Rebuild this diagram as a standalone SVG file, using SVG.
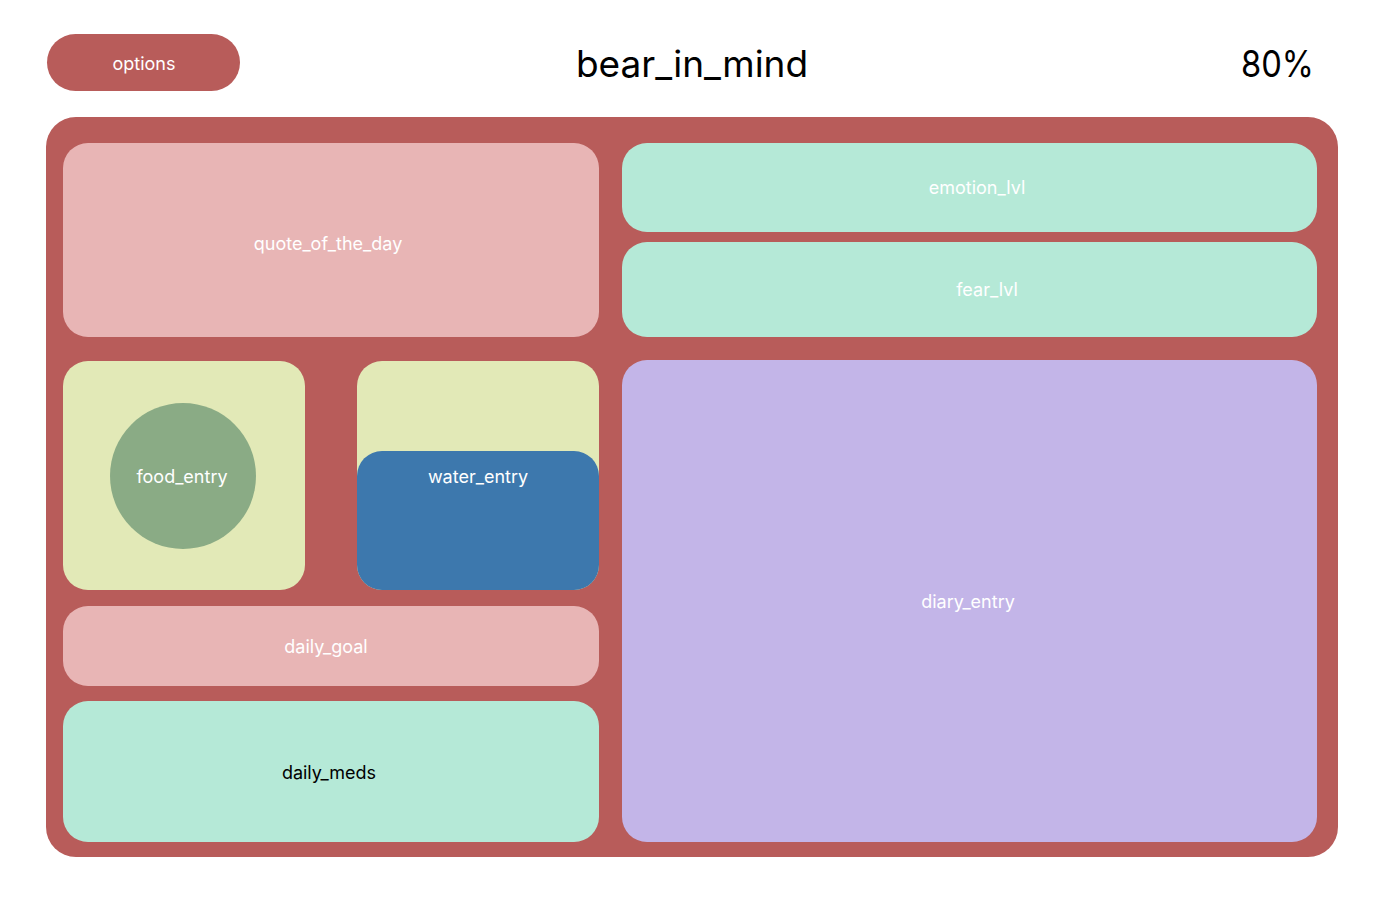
<svg xmlns="http://www.w3.org/2000/svg" width="1387" height="902" viewBox="0 0 1387 902">
<style>
.lbl{font-family:Inter,"Noto Sans","Liberation Sans",sans-serif;font-size:18px;fill:#ffffff;text-anchor:middle}
.dark{fill:#000000}
.big{font-family:Inter,"Noto Sans","Liberation Sans",sans-serif;font-size:37px;fill:#000000}
.red{fill:#b85c5a}
.pink{fill:#e8b5b5}
.mint{fill:#b5e9d7}
.lime{fill:#e2e9b7}
</style>
<rect width="1387" height="902" fill="#ffffff"/>
<g id="options">
<rect class="red" x="47" y="34" width="193" height="57" rx="28.5"/>
<text class="lbl" x="144" y="69.5">options</text>
</g>
<g id="title"><text class="big" x="692" y="77" text-anchor="middle">bear_in_mind</text></g>
<g id="percent"><text class="big" x="1241" y="77" textLength="73" lengthAdjust="spacingAndGlyphs">80%</text></g>
<g id="container">
<rect class="red" x="46" y="117" width="1292" height="740" rx="30"/>
</g>
<g id="quote_of_the_day">
<rect class="pink" x="63" y="143" width="536" height="194" rx="25"/>
<text class="lbl" x="328" y="249.5">quote_of_the_day</text>
</g>
<g id="emotion_lvl">
<rect class="mint" x="622" y="143" width="695" height="89" rx="25"/>
<text class="lbl" x="977" y="193.5">emotion_lvl</text>
</g>
<g id="fear_lvl">
<rect class="mint" x="622" y="242" width="695" height="95" rx="25"/>
<text class="lbl" x="987" y="295.5">fear_lvl</text>
</g>
<g id="food_entry">
<rect class="lime" x="63" y="361" width="242" height="229" rx="25"/>
<circle cx="183" cy="476" r="73" fill="#8aab85"/>
<text class="lbl" x="182" y="482.5">food_entry</text>
</g>
<g id="water_entry">
<rect class="lime" x="357" y="361" width="242" height="229" rx="25"/>
<rect x="357" y="451" width="242" height="139" rx="25" fill="#3d78ad"/>
<text class="lbl" x="478" y="482.5">water_entry</text>
</g>
<g id="daily_goal">
<rect class="pink" x="63" y="606" width="536" height="80" rx="25"/>
<text class="lbl" x="326" y="652.5">daily_goal</text>
</g>
<g id="daily_meds">
<rect class="mint" x="63" y="701" width="536" height="141" rx="25"/>
<text class="lbl dark" x="329" y="778.5">daily_meds</text>
</g>
<g id="diary_entry">
<rect x="622" y="360" width="695" height="482" rx="25" fill="#c3b5e8"/>
<text class="lbl" x="968" y="607.5">diary_entry</text>
</g>
<g id="connectors"></g>
</svg>
